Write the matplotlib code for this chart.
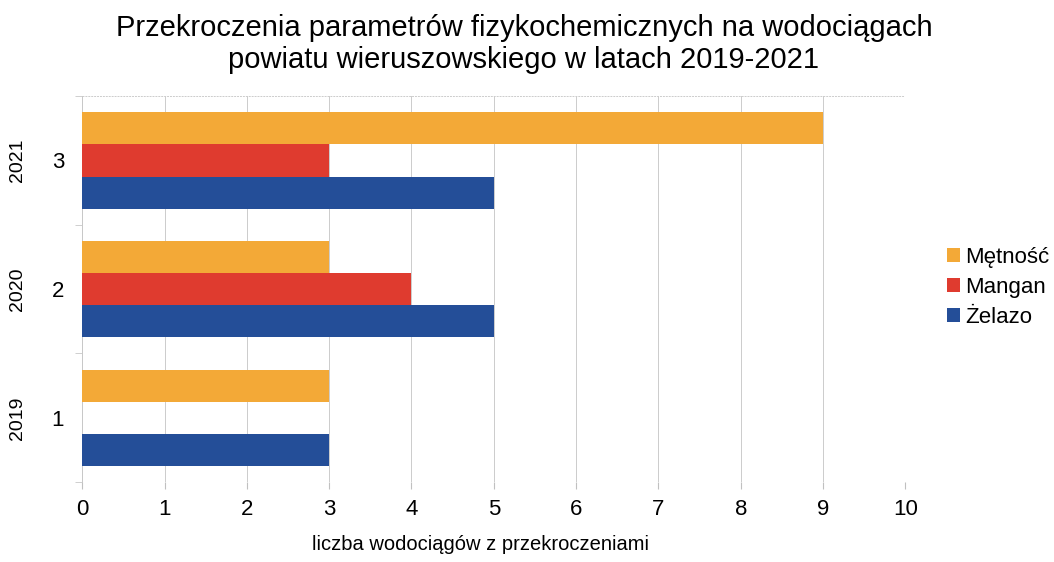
import numpy as np
import matplotlib.pyplot as plt

plt.rcParams['font.family'] = ['Liberation Sans', 'DejaVu Sans']

# data
positions = [1, 2, 3]
years = ["2019", "2020", "2021"]
zelazo = [3, 5, 5]
mangan = [0, 4, 3]
metnosc = [3, 3, 9]
x_ticks = list(range(0, 11))

col_zelazo = '#244e98'
col_mangan = '#df3b2f'
col_metnosc = '#f3a937'

fig = plt.figure(figsize=(10.54, 5.62), dpi=100)
ax = fig.add_axes([0.078, 0.142, 0.781, 0.687])

h = 0.25
y = np.array(positions, dtype=float)
ax.barh(y - h, zelazo, height=h, color=col_zelazo, label='Żelazo', zorder=3)
ax.barh(y, mangan, height=h, color=col_mangan, label='Mangan', zorder=3)
ax.barh(y + h, metnosc, height=h, color=col_metnosc, label='Mętność', zorder=3)

ax.set_xlim(0, 10)
ax.set_ylim(0.5, 3.5)
ax.set_xticks(x_ticks)
ax.set_xticklabels([str(v) for v in x_ticks], fontsize=16)
ax.set_yticks(positions)
ax.set_yticklabels([str(p) for p in positions], fontsize=16)
ax.tick_params(axis='y', length=0, pad=13)
ax.tick_params(axis='x', length=5, color='#c0c0c0', pad=7)

# boundaries between categories
ax.set_yticks([0.5, 1.5, 2.5, 3.5], minor=True)
ax.tick_params(axis='y', which='minor', length=5, color='#c8c8c8')

ax.grid(axis='x', color='#cccccc', linewidth=0.7, zorder=0)
for yy in [0.5, 3.5]:
    ax.axhline(yy, color='#cccccc', linewidth=0.7, linestyle=(0, (2, 1)), zorder=1)

for side in ['top', 'right', 'bottom']:
    ax.spines[side].set_visible(False)
ax.spines['left'].set_color('#c8c8c8')
ax.spines['left'].set_linewidth(0.7)

# year labels to the left of the category numbers
for p, yr in zip(positions, years):
    ax.text(-0.79, p, yr, rotation=90, ha='center', va='center', fontsize=14)

ax.set_xlabel('liczba wodociągów z przekroczeniami', fontsize=14.5)
ax.xaxis.set_label_coords(0.484, -0.138)

fig.suptitle('Przekroczenia parametrów fizykochemicznych na wodociągach\n'
             'powiatu wieruszowskiego w latach 2019-2021',
             fontsize=21, x=0.497, y=0.975, linespacing=1.2)

handles, labels = ax.get_legend_handles_labels()
ax.legend(handles[::-1], labels[::-1], loc='center left', bbox_to_anchor=(1.05, 0.505),
          frameon=False, fontsize=16, handlelength=0.6, handleheight=0.6,
          handletextpad=0.25, labelspacing=0.4, borderpad=0, borderaxespad=0)

fig.savefig('out.png', dpi=100)
